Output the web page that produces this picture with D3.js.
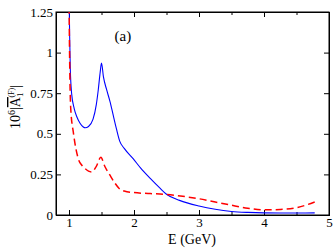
<!DOCTYPE html>
<html>
<head>
<meta charset="utf-8">
<script src="https://cdn.jsdelivr.net/npm/d3@7"></script>
<style>
  body { margin: 0; background: #fff; }
  text { font-family: "Times New Roman", "Liberation Serif", Times, serif; }
</style>
</head>
<body>
<div class="chart"></div>
<script>
// DATA ------------------------------------
const blueE = [1.00, 1.01, 1.02, 1.04, 1.08, 1.12, 1.17, 1.22, 1.25, 1.30, 1.37, 1.42, 1.45, 1.48, 1.50,
    1.53, 1.58, 1.63, 1.68, 1.73, 1.78, 1.85, 1.99, 2.10, 2.25, 2.40, 2.50, 2.70, 3.00, 3.25, 3.50,
    3.75, 4.00, 4.40, 4.78];
const blueA = [1.40, 1.10, 0.90, 0.75, 0.655, 0.605, 0.565, 0.542, 0.537, 0.545, 0.59, 0.68, 0.77, 0.88, 0.935,
    0.85, 0.77, 0.70, 0.615, 0.53, 0.455, 0.41, 0.345, 0.29, 0.225, 0.165, 0.128, 0.09, 0.055, 0.035, 0.022,
    0.016, 0.013, 0.012, 0.013];

const redE = [1.00, 1.01, 1.026, 1.07, 1.14, 1.20, 1.25, 1.30, 1.35, 1.42, 1.49, 1.55, 1.63, 1.70, 1.78,
    1.85, 2.00, 2.25, 2.50, 2.75, 3.00, 3.25, 3.50, 3.75, 4.00, 4.25, 4.50, 4.78];
const redA = [1.35, 0.95, 0.66, 0.50, 0.35, 0.305, 0.285, 0.27, 0.265, 0.30, 0.355, 0.30, 0.245, 0.20, 0.16,
    0.148, 0.138, 0.132, 0.126, 0.115, 0.10, 0.08, 0.06, 0.042, 0.032, 0.034, 0.045, 0.08];

const xTicks = [1, 2, 3, 4, 5];
const xMinorTicks = [1.5, 2.5, 3.5, 4.5];
const yTicks = [0, 0.25, 0.5, 0.75, 1, 1.25];
const yTickLabels = ['0', '0.25', '0.5', '0.75', '1', '1.25'];

// CHART INIT ------------------------------
const margin = { top: 12, right: 7, bottom: 33, left: 56 },
    width = 336 - margin.left - margin.right,
    height = 248 - margin.top - margin.bottom;

const svg = d3.select('.chart')
    .append('svg')
    .attr('width', 336)
    .attr('height', 248);

const group = svg.append('g')
    .attr('transform', 'translate(' + margin.left + ',' + margin.top + ')');

const xScale = d3.scaleLinear().domain([0.8, 5]).range([0, width]);
const yScale = d3.scaleLinear().domain([0, 1.25]).range([height, 0]);

group.append('clipPath').attr('id', 'clip')
    .append('rect').attr('width', width).attr('height', height);

// axes: ticks point inward, on all four sides
const fmt = d => yTickLabels[yTicks.indexOf(d)];

group.append('g')
    .attr('transform', `translate(0,${height})`)
    .call(d3.axisBottom(xScale).tickValues(xTicks).tickSize(-5).tickPadding(3).tickFormat(d3.format('d')));
group.append('g')
    .attr('transform', `translate(0,${height})`)
    .call(d3.axisBottom(xScale).tickValues(xMinorTicks).tickSize(-3).tickFormat(''));
group.append('g')
    .call(d3.axisTop(xScale).tickValues(xTicks).tickSize(-5).tickFormat(''));
group.append('g')
    .call(d3.axisTop(xScale).tickValues(xMinorTicks).tickSize(-3).tickFormat(''));
group.append('g')
    .call(d3.axisLeft(yScale).tickValues(yTicks).tickSize(-5).tickPadding(3).tickFormat(fmt));
group.append('g')
    .attr('transform', `translate(${width},0)`)
    .call(d3.axisRight(yScale).tickValues(yTicks).tickSize(-5).tickFormat(''));

group.selectAll('.domain').attr('stroke', '#000');
group.selectAll('.tick line').attr('stroke', '#000');
group.selectAll('.tick text')
    .attr('font-size', 13)
    .attr('fill', '#000');

group.append('rect')
    .attr('width', width).attr('height', height)
    .attr('fill', 'none').attr('stroke', '#000');

// curves
const line = d3.line()
    .x(d => xScale(d[0]))
    .y(d => yScale(d[1]))
    .curve(d3.curveMonotoneX);

group.append('path')
    .datum(blueE.map((e, i) => [e, blueA[i]]))
    .attr('clip-path', 'url(#clip)')
    .attr('d', line)
    .attr('fill', 'none')
    .attr('stroke', '#0000ff')
    .attr('stroke-width', 1.1);

group.append('path')
    .datum(redE.map((e, i) => [e, redA[i]]))
    .attr('clip-path', 'url(#clip)')
    .attr('d', line)
    .attr('fill', 'none')
    .attr('stroke', '#ff0000')
    .attr('stroke-width', 1.5)
    .attr('stroke-dasharray', '7,4');

// labels
group.append('text')
    .attr('x', xScale(1.7))
    .attr('y', 29)
    .attr('font-size', 15)
    .text('(a)');

svg.append('text')
    .attr('x', 192)
    .attr('y', 244)
    .attr('text-anchor', 'middle')
    .attr('font-size', 14)
    .text('E (GeV)');

const yLabel = svg.append('text')
    .attr('transform', 'translate(20,107) rotate(-90)')
    .attr('text-anchor', 'middle')
    .attr('font-size', 14);
yLabel.append('tspan').text('10');
yLabel.append('tspan').attr('font-size', 10).attr('dy', -5).text('6');
yLabel.append('tspan').attr('dy', 5).text('|');
yLabel.append('tspan').attr('text-decoration', 'overline').text('A');
yLabel.append('tspan').attr('font-size', 9).attr('dy', 3).text('1');
yLabel.append('tspan').attr('font-size', 8).attr('dx', -5).attr('dy', -9).text('(F)');
yLabel.append('tspan').attr('dy', 6).text('|');
</script>
</body>
</html>
